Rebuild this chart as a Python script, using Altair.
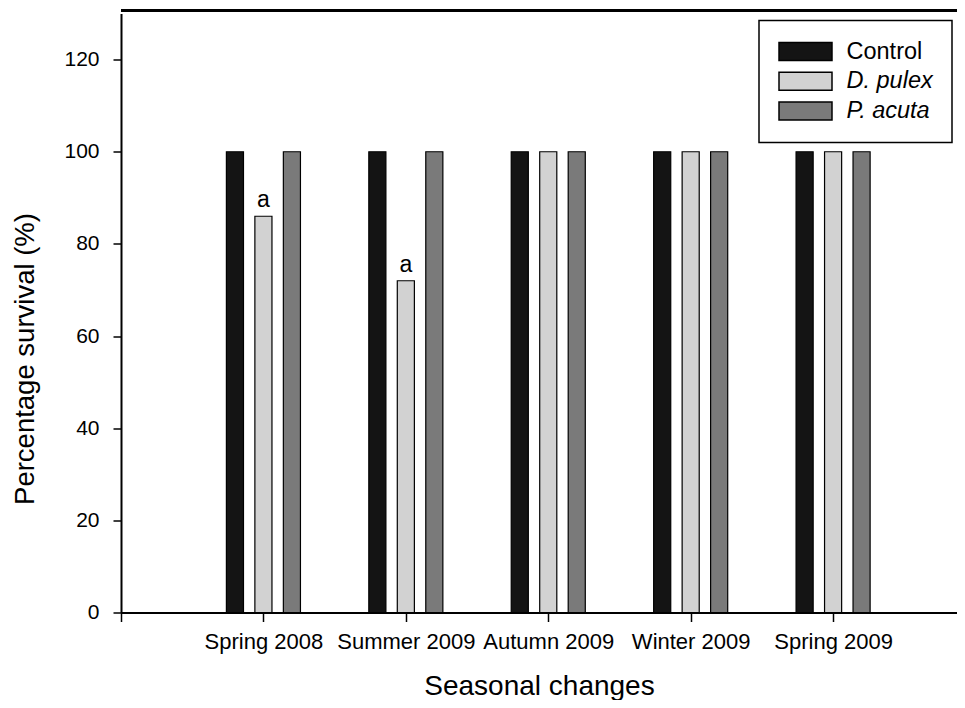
import json
import altair as alt
import pandas as pd

FONT = "Liberation Sans"

seasons = ["Spring 2008", "Summer 2009", "Autumn 2009", "Winter 2009", "Spring 2009"]
series = ["Control", "D. pulex", "P. acuta"]
control = [100, 100, 100, 100, 100]
d_pulex = [86, 72, 100, 100, 100]
p_acuta = [100, 100, 100, 100, 100]
letters = ["a", "a", "", "", ""]
colors = ["#141414", "#d2d2d2", "#7a7a7a"]
y_ticks = [0, 20, 40, 60, 80, 100, 120]
x_ticks = [0, 1, 2, 3, 4, 5]

rows = []
for si, (name, vals) in enumerate(zip(series, [control, d_pulex, p_acuta])):
    for gi, v in enumerate(vals):
        rows.append({
            "season": seasons[gi],
            "pos": gi + 1,
            "series": name,
            "sidx": si,
            "value": v,
            "letter": letters[gi] if name == "D. pulex" else "",
        })
df = pd.DataFrame(rows)

label_expr = json.dumps([""] + seasons) + "[datum.value]"

xs = alt.Scale(domain=[0, 5.87], nice=False, zero=False)
ys = alt.Scale(domain=[0, 130], nice=False)

xaxis = alt.Axis(values=x_ticks, labelExpr=label_expr, title="Seasonal changes")
yaxis = alt.Axis(values=y_ticks, format="d", title="Percentage survival (%)")

legend = alt.Legend(
    title=None, orient="none", legendX=638, legendY=7,
    symbolType="M-1,-0.34L1,-0.34L1,0.34L-1,0.34Z", symbolSize=2809,
    symbolStrokeColor="black", symbolStrokeWidth=1.5, symbolOpacity=1,
    clipHeight=24, rowPadding=5.7, padding=19, labelOffset=13.5,
    labelFontSize=23.5, labelFont=FONT, labelColor="black",
    labelFontStyle=alt.ExprRef(expr="datum.value == 'Control' ? 'normal' : 'italic'"),
    strokeColor="black",
)

base = alt.Chart(df).transform_calculate(
    xc="datum.pos + (datum.sidx - 1) * 0.2", zero="0"
).transform_calculate(
    x0="datum.xc - 0.06", x1="datum.xc + 0.06"
)

bars = base.mark_bar(stroke="black", strokeWidth=1.2).encode(
    x=alt.X("x0:Q", scale=xs, axis=xaxis),
    x2="x1:Q",
    y=alt.Y("value:Q", scale=ys, axis=yaxis),
    y2="zero:Q",
    fill=alt.Fill("series:N", scale=alt.Scale(domain=series, range=colors), legend=legend),
)

text = base.transform_filter("datum.letter != ''").mark_text(
    dy=-9, baseline="alphabetic", fontSize=23, font=FONT, color="black"
).encode(
    x=alt.X("xc:Q", scale=xs, axis=xaxis),
    y=alt.Y("value:Q", scale=ys, axis=yaxis),
    text="letter:N",
)

top = alt.Chart(df).mark_rule(color="black", strokeWidth=2.5).encode(
    y=alt.YDatum(130.6, scale=ys, axis=yaxis)
)

chart = alt.layer(bars, text, top).properties(
    width=836, height=599,
    padding={"left": 113, "top": 5.5, "right": 0, "bottom": 87},
    autosize=alt.AutoSizeParams(type="none"),
).configure_view(
    stroke="transparent"
).configure_legend(
    strokeWidth=1.5
).configure_axis(
    grid=False, domainColor="black", domainWidth=2, tickColor="black", tickWidth=1.5,
    labelColor="black", titleColor="black", labelFont=FONT, titleFont=FONT,
    titleFontWeight="normal", labelFlush=False, labelOverlap=False,
).configure_axisX(
    labelFontSize=22, labelBaseline="alphabetic", labelPadding=27, tickSize=9,
    titleFontSize=28, titleY=82, titleBaseline="alphabetic",
).configure_axisY(
    labelFontSize=21, labelPadding=14, tickSize=8,
    titleFontSize=27.5, titleAngle=270, titleX=-88, titleY=345,
    titleBaseline="alphabetic", titleAlign="center",
)

chart.save("out.html", embed_options={"renderer": "svg", "actions": False})
